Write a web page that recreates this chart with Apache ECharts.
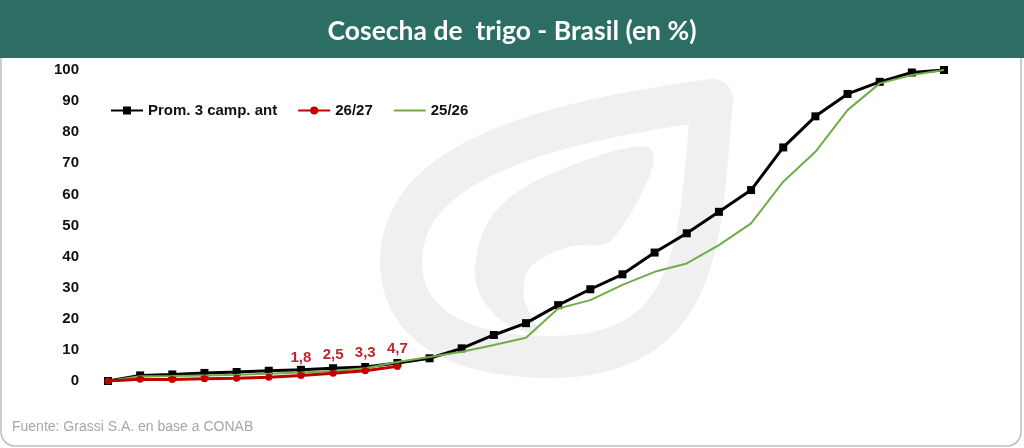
<!DOCTYPE html>
<html>
<head>
<meta charset="utf-8">
<script src="https://cdn.jsdelivr.net/npm/echarts@6/dist/echarts.min.js"></script>
<style>html,body{margin:0;padding:0;background:#fff}#c{width:1024px;height:448px}</style>
</head>
<body>
<div id="c"></div>
<script>
var titleText = 'Cosecha de  trigo - Brasil (en %)';
var sourceText = 'Fuente: Grassi S.A. en base a CONAB';
var weeks = ['S1','S2','S3','S4','S5','S6','S7','S8','S9','S10','S11','S12','S13','S14','S15','S16','S17','S18','S19','S20','S21','S22','S23','S24','S25','S26','S27'];
var promName = 'Prom. 3 camp. ant';
var curName = '26/27';
var prevName = '25/26';
var prom = [0, 1.8, 2.1, 2.6, 2.9, 3.3, 3.6, 4.1, 4.5, 5.8, 7.3, 10.5, 14.8, 18.6, 24.4, 29.5, 34.3, 41.3, 47.5, 54.4, 61.4, 75.1, 85.1, 92.3, 96.2, 99.2, 100];
var cur = [0, 0.6, 0.5, 0.7, 0.9, 1.2, 1.8, 2.5, 3.3, 4.7];
var prev = [0, 1.5, 1.6, 1.8, 2.0, 2.3, 2.7, 3.2, 4.1, 6.1, 7.7, 9.4, 11.6, 13.9, 23.3, 26.0, 30.9, 35.1, 37.8, 43.7, 50.7, 64.1, 73.7, 87.1, 95.7, 98.4, 100];
var labelledFrom = 6;
var yTicks = {min: 0, max: 100, interval: 10};

var wm = '#f0f0f0';
var ringStyle = {fill: null, stroke: wm, lineWidth: 42, lineCap: 'round'};
var font = 'Liberation Sans, Arial';

var chart = echarts.init(document.getElementById('c'));
chart.setOption({
  animation: false,
  backgroundColor: '#ffffff',
  title: {
    text: titleText, left: 'center', top: 13,
    textStyle: {color: '#ffffff', fontFamily: 'Lato', fontWeight: 'bold', fontSize: 26.5}
  },
  graphic: [
    {type: 'rect', z: 0, shape: {x: 1, y: 10, width: 1020, height: 436, r: 14}, style: {fill: '#ffffff', stroke: '#bdbdbd', lineWidth: 1.5}},
    {type: 'rect', z: 1, shape: {x: 0, y: 0, width: 1024, height: 58}, style: {fill: '#2c6e63'}},
    {type: 'bezierCurve', z: 1, shape: {x1: 712, y1: 100, cpx1: 700, cpy1: 230, cpx2: 705, cpy2: 357, x2: 552, y2: 357}, style: ringStyle},
    {type: 'bezierCurve', z: 1, shape: {x1: 552, y1: 357, cpx1: 450, cpy1: 357, cpx2: 401, cpy2: 320, x2: 401, y2: 262}, style: ringStyle},
    {type: 'bezierCurve', z: 1, shape: {x1: 401, y1: 262, cpx1: 401, cpy1: 170, cpx2: 520, cpy2: 125, x2: 712, y2: 100}, style: ringStyle},
    {type: 'polygon', z: 1, shape: {smooth: 0.35, points: [[652,150],[560,170],[495,212],[475,275],[498,318],[538,332],[524,298],[530,268],[568,247],[612,240]]}, style: {fill: wm}},
    {type: 'text', z: 1, left: 12, top: 420, style: {text: sourceText, fill: '#a6a6a6', fontFamily: font, fontSize: 14}}
  ],
  legend: {
    left: 105, top: 98, itemWidth: 32, itemHeight: 10, itemGap: 20,
    data: [promName, curName, {name: prevName, itemStyle: {opacity: 0}}],
    textStyle: {color: '#111', fontFamily: font, fontWeight: 'bold', fontSize: 15}
  },
  grid: {left: 108, right: 80, top: 70, bottom: 67},
  xAxis: {type: 'category', data: weeks, boundaryGap: false, show: false},
  yAxis: {
    type: 'value', min: yTicks.min, max: yTicks.max, interval: yTicks.interval,
    axisLine: {show: false}, axisTick: {show: false}, splitLine: {show: false},
    axisLabel: {margin: 29, color: '#111', fontFamily: font, fontWeight: 'bold', fontSize: 15}
  },
  series: [
    {name: promName, type: 'line', data: prom, symbol: 'rect', symbolSize: 8, z: 3,
     itemStyle: {color: '#000000'}, lineStyle: {color: '#000000', width: 3}},
    {name: prevName, type: 'line', data: prev, symbol: 'none', showSymbol: false, z: 4,
     itemStyle: {color: '#70ad47'}, lineStyle: {color: '#70ad47', width: 2}},
    {name: curName, type: 'line', data: cur, symbol: 'circle', symbolSize: 7, z: 5,
     itemStyle: {color: '#c00000'}, lineStyle: {color: '#c00000', width: 3},
     label: {show: true, position: 'top', distance: 7, color: '#c0262d', fontFamily: font, fontWeight: 'bold', fontSize: 15,
       formatter: function (p) { return p.dataIndex >= labelledFrom ? String(p.value).replace('.', ',') : ''; }}}
  ]
});
</script>
</body>
</html>
